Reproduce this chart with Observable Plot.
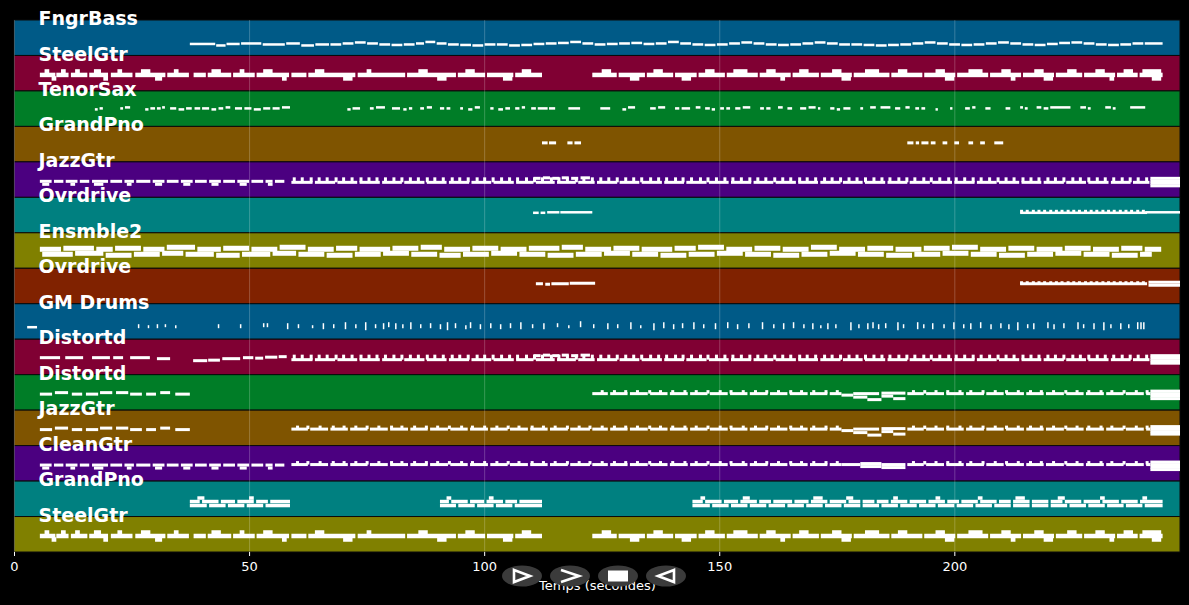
<!DOCTYPE html>
<html><head><meta charset="utf-8">
<script src="https://cdn.jsdelivr.net/npm/d3@7"></script>
<script src="https://cdn.jsdelivr.net/npm/@observablehq/plot@0.6"></script>
<style>
html,body{margin:0;padding:0;background:#000;}
#wrap{position:relative;width:1189px;height:605px;overflow:hidden;background:#000;}
#btns{position:absolute;left:0;top:0;}
</style></head><body><div id="wrap"></div>
<script>
// ---- track names & colours ----
const trackNames = ["FngrBass","SteelGtr","TenorSax","GrandPno","JazzGtr","Ovrdrive","Ensmble2","Ovrdrive","GM Drums","Distortd","Distortd","JazzGtr","CleanGtr","GrandPno","SteelGtr"];
const palette = ["#005a87","#800033","#007d27","#7f5400","#4b0080","#008080","#808000","#802200"];
const timeTicks = [0,50,100,150,200];
const timeDomain = [0,248];

// ---- notes: [start s, end s, pitch (px above band bottom)] ----
const fngrBass = [[37.4,42.8,11.5],[43,45,10],[45.2,48,11.5],[48.3,52.6,12],[52.9,57.6,11],[57.9,60.8,12],[61.1,63.8,10],[64.1,67,11],[67.3,69.6,11],[69.9,72.2,12],[72.5,74.8,13],[75.1,77.4,12],[77.7,80,11],[80.3,82.6,10.5],[82.9,85.2,11],[85.5,87.2,12],[87.5,89.6,13.5],[89.9,92,12],[92.3,94.6,11],[94.9,97.2,10.5],[97.5,99.8,10],[100.1,102.4,11],[102.7,105,11],[105.3,107.6,10],[107.9,110.2,10.5],[110.5,112.8,11.5],[113.1,115.4,12],[115.7,118,12.5],[118.3,120.6,13.5],[120.9,123.2,12],[123.5,125.8,11],[126.1,128.4,11.5],[128.7,131,12],[131.3,133.6,12.5],[133.9,136.2,11.5],[136.5,138.8,12],[139.1,141.4,13.5],[141.7,144,12],[144.3,146.6,11],[146.9,149.2,10.5],[149.5,151.8,11],[152.1,154.4,12],[154.7,157,13],[157.3,159.6,12],[159.9,162.2,11],[162.5,164.8,10.5],[165.1,167.4,11],[167.7,170,12],[170.3,172.6,13],[172.9,175.2,12],[175.5,177.8,11],[178.1,180.4,11],[180.7,183,10.5],[183.3,185.6,10],[185.9,188.2,10.5],[188.5,190.8,11],[191.1,193.4,12],[193.7,196,13],[196.3,198.6,12],[198.9,201.2,11],[201.5,203.8,10.5],[204.1,206.4,11],[206.7,209,12],[209.3,211.6,13],[211.9,214.2,12],[214.5,216.8,11],[217.1,219.4,10.5],[219.7,222,11.5],[222.3,224.6,12.5],[224.9,227.2,13],[227.5,229.8,12],[230.1,232.4,11],[232.7,235,10.5],[235.3,237.6,11],[237.9,240.2,12],[240.5,244.3,12]];

const steelMain = [[5.5,8.8,16],[9,11.6,16],[12.1,15.6,16],[16,20,16],[20.6,25.2,16],[25.8,32.2,16],[32.6,37.2,16],[38.2,40.8,16],[41.2,46.2,16],[46.6,51.2,16],[51.6,58.5,16],[59,62.2,16],[62.6,72.6,16],[73.1,83.2,16],[83.6,94,16],[94.4,100.2,16],[100.6,106.2,16],[106.6,112.3,16],[123,128.2,16],[128.6,134.2,16],[134.6,140.2,16],[140.6,145.2,16],[145.6,151.2,16],[151.6,158.2,16],[158.6,165.2,16],[165.6,171.2,16],[171.6,178.2,16],[178.6,186.2,16],[186.6,193.2,16],[193.6,200.2,16],[200.6,207.2,16],[207.6,214.2,16],[214.6,221.2,16],[221.6,227.2,16],[227.6,234.2,16],[234.6,239,16],[239.4,244.3,16]];
const steelHigh = [[6.5,7.5,19.5],[10,11,19.5],[13,14,19.5],[17,18.5,19.5],[22,23,19.5],[27,29,19.5],[34,35,19.5],[42,44,19.5],[48,49,19.5],[53,55,19.5],[64,66,19.5],[75,76,19.5],[86,88,19.5],[96,98,19.5],[108,110,19.5],[125,127,19.5],[136,138,19.5],[147,149,19.5],[153,156,19.5],[160,162,19.5],[167,169,19.5],[174,176,19.5],[181,184,19.5],[188,190,19.5],[196,198,19.5],[203,206,19.5],[210,212,19.5],[217,219,19.5],[224,226,19.5],[230,232,19.5],[236,238,19.5],[240,244,19.5]];
const steelLow = [[8,9,12.5],[19,20,12.5],[30,31.5,12.5],[57,58,12.5],[70,72,12.5],[90,92,12.5],[104,106,12.5],[131,133,12.5],[142,144,12.5],[163,164,12.5],[176,178,12.5],[198,200,12.5],[212,213,12.5],[219,221,12.5],[233,234,12.5],[242,244,12.5]];

const tenorSax = [[17.2,17.8,17],[18.2,18.9,18],[22.6,23.2,18],[23.6,24.7,19],[27.9,28.6,17],[29,30,18],[30.4,31.2,18],[31.5,32.1,19],[33.2,34.5,18],[35,36.2,17],[36.6,37.8,18],[38.4,39.6,18],[40,41.5,18],[42,43,17],[43.5,44.5,18],[45,46,19],[47,48.5,18],[49,50.5,18],[51,52.5,17],[53,54.5,18],[55,56.5,18],[57,58.7,19],[70.9,71.6,17],[72,73.6,18],[75.7,76.5,18],[77,78.9,19],[80.4,82.1,18],[82.8,83.5,17],[84,84.7,18],[86.4,87.2,18],[87.8,88.9,19],[90.6,91.5,18],[92,92.8,18],[94.9,95.5,18],[96.6,97.5,17],[98,99.1,19],[101.3,102,18],[103,104,17],[104.5,105.5,18],[106.6,107.5,18],[108,108.7,19],[110,111,18],[111.4,113.5,18],[113.8,115.1,18],[117.9,120.4,18],[124.7,126.8,18],[129.4,130.2,17],[130.6,132.1,19],[135.3,136.5,18],[137,138.5,19],[140.6,141.5,18],[142,143.8,18],[145,146,19],[147,148,18],[148.4,149.1,17],[150.2,151,18],[151.5,152.3,18],[153.4,154.5,18],[155,156.6,19],[158.7,159.5,18],[160,160.9,18],[162.5,163.5,19],[164.5,165.5,18],[167.2,168.5,18],[169,170.5,19],[171,171.5,18],[173.6,174.5,18],[175,175.7,17],[176.4,177.9,18],[180,180.6,18],[182.1,183.3,19],[184.3,186.4,19],[187.4,188.5,18],[189.6,190.5,19],[191.7,192.5,18],[193,193.8,18],[196,196.5,17],[199.1,199.6,18],[202.3,203.3,18],[203.8,204.5,19],[206.6,207.7,18],[210.9,211.9,18],[214,214.6,19],[215,215.6,18],[217.5,218.5,19],[219,220,18],[220.4,224.7,19],[226.8,228,19],[228.4,229,18],[232.1,233.3,19],[233.7,234.3,18],[237.4,240.6,19]];

const grandPnoA = [[112.3,113.5,19],[113.8,115.3,19],[117.7,118.8,19],[119.2,120.6,19],[190,191.3,19],[191.8,192.5,19],[193,194.5,19],[195,196,19],[197.5,198.5,19],[200,201,19],[203,204,19],[205.5,206.5,19],[208.5,210.4,19]];

const jazzEarly = [[5.5,8,16],[8.5,10.5,16],[11,13.5,16],[14,16,16],[16.6,20,16],[20.5,23,16],[23.5,25.5,16],[26,29,16],[29.5,32,16],[32.5,35,16],[35.5,38,16],[38.5,41,16],[41.5,44,16],[44.5,47,16],[47.5,50,16],[50.5,53,16],[53.5,55,16],[55.5,57.5,16]];
const jazzEarlyLow = [[6,7.5,13],[12,13,13],[17,19,13],[24,25,13],[30,31.5,13],[36,37.5,13],[42,43.5,13],[48,49.5,13],[54,55,13]];

const riffBase = [[59,63.5,15],[64,68.3,15],[68.8,73,15],[73.5,77.8,15],[78.3,82.5,15],[83,87.3,15],[87.8,92,15],[92.5,96.8,15],[97.3,101.5,15],[102,106.3,15],[106.8,110.5,15],[111,115,15],[115.5,119.5,15],[120,123.5,15],[124,128.3,15],[128.8,133,15],[133.5,137.8,15],[138.3,142.5,15],[143,147.3,15],[147.8,152,15],[152.5,156.8,15],[157.3,161.5,15],[162,166.3,15],[166.8,171,15],[171.5,175.8,15],[176.3,180.5,15],[181,185.3,15],[185.8,190,15],[190.5,194.8,15],[195.3,199.5,15],[200,204.3,15],[204.8,209,15],[209.5,213.8,15],[214.3,218.5,15],[219,223.3,15],[223.8,228,15],[228.5,232.8,15],[233.3,237.5,15],[238,241.5,15]];
const riffUpper = [[110.5,112,19],[112.5,114,19.5],[114.5,116,19],[116.5,118,19.5],[118.5,120,19],[120.5,122.5,19.5]];
const riffAccents = [59.5,61.2,63.1,64.8,66.5,68.4,70,71.8,73.7,75.4,77.1,78.9,80.7,82.4,84.2,85.9,87.8,89.4,91.2,93.1,94.7,96.5,98.4,100,101.8,103.6,105.3,107,108.9,110.6,112.3,114.2,115.8,117.6,119.5,121.1,122.9,124.7,126.4,128.2,130,131.7,133.4,135.3,137,138.7,140.6,142.2,144,145.9,147.5,149.3,151.1,152.8,154.6,156.4,158.1,159.8,161.7,163.4,165.1,167,168.6,170.4,172.3,173.9,175.7,177.5,179.2,181,182.8,184.5,186.2,188.1,189.8,191.5,193.4,195,196.8,198.7,200.3,202.1,203.9,205.6,207.4,209.2,210.9,212.6,214.5,216.2,217.9,219.8,221.4,223.2,225.1,226.7,228.5,230.3,232,233.8,235.6,237.3,239,240.8];
const endBlock = [[241.7,248,11.5],[241.7,248,14],[241.7,248,16.5],[241.7,248,19]];

const ovrA = [[110.4,111.6,20],[112,113,20],[113.4,116,20.5],[116.2,123,20.5]];
const ovrB = [[111,112.5,20],[113,114,19.5],[114.3,118,20],[118.2,123.6,20.5]];
const ovrDotBase = [[214,241,20]];
const ovrDots = [214.2,215.4,216.7,217.9,219.1,220.4,221.6,222.8,224.1,225.3,226.5,227.8,229,230.2,231.5,232.7,233.9,235.2,236.4,237.6,238.9,240.1];
const ovrEndLine = [[240.6,248,20.5]];
const ovrEndBlock = [[241.3,248,18.5],[241.3,248,21.5]];

const ensUpper = [[5.5,10,19],[10.5,17,20],[17.5,21,19],[21.5,27,20],[27.5,32,19],[32.5,38.5,21],[39,44,19],[44.5,50,20],[50.5,56,19],[56.5,62,21],[62.5,68,19],[68.5,73,20],[73.5,80,19],[80.5,86,20],[86.5,91,21],[91.5,97,19],[97.5,103,20],[103.5,109,19],[109.5,116,20],[116.5,121,21],[121.5,127,19],[127.5,133,20],[133.5,140,19],[140.5,145,20],[145.5,151,21],[151.5,157,19],[157.5,163,20],[163.5,169,19],[169.5,175,21],[175.5,181,19],[181.5,187,20],[187.5,193,19],[193.5,199,20],[199.5,205,21],[205.5,211,19],[211.5,217,20],[217.5,223,19],[223.5,229,20],[229.5,235,19],[235.5,240,20],[240.5,244,19]];
const ensLower = [[6,12.5,14],[13,19,15],[19.5,25,13],[25.5,31,14],[31.5,36,15],[36.5,42.5,14],[43,48,13],[48.5,54.5,14],[55,60,15],[60.5,66,14],[66.5,72,13],[72.5,78,14],[78.5,84,15],[84.5,90,14],[90.5,95,13],[95.5,101,14],[101.5,107,15],[107.5,113,14],[113.5,119,13],[119.5,125,14],[125.5,131,15],[131.5,137,14],[137.5,143,13],[143.5,149,14],[149.5,155,15],[155.5,161,14],[161.5,167,13],[167.5,173,14],[173.5,179,15],[179.5,185,14],[185.5,191,13],[191.5,197,14],[197.5,203,15],[203.5,209,14],[209.5,215,13],[215.5,221,14],[221.5,227,15],[227.5,233,14],[233.5,239,13],[239.5,242,14]];

const drumNotes = [[2.8,4.9,12]];
// drum hits: [time, low pitch, high pitch]
const drumHits = [[26.4,11,15],[28.5,11,14],[30.4,11,15],[32.1,12,15],[34.3,11,14],[43.4,11,15],[48.1,11,15],[53,12,16],[53.8,12,16],[58.1,10,16],[60.4,11,15],[63.4,11,14],[65.7,10,16],[67.9,11,15],[70.4,10,17],[72.6,11,15],[74.7,9,17],[76.8,11,15],[78.5,10,16],[79.6,12,17],[81.1,10,16],[82.6,11,15],[84.3,10,17],[86.4,11,15],[88.5,11,16],[90.6,10,15],[92.1,9,17],[93.8,11,16],[96,10,14],[97,11,17],[99.1,10,15],[101.3,11,16],[103.4,10,15],[105.5,11,16],[107.7,10,17],[110.2,11,15],[112.6,10,16],[115.5,12,16],[117.9,11,14],[120.4,12,18],[123.2,11,15],[126.2,10,16],[128.3,11,15],[131.1,10,17],[133.2,11,14],[136,9,16],[138.1,11,17],[140.2,10,15],[142.1,11,16],[144.5,10,17],[146.6,11,15],[149.1,10,16],[151.7,11,17],[153.8,10,15],[156.2,11,16],[159.1,10,17],[161.5,11,15],[163.6,10,16],[165.7,11,17],[167.9,11,15],[169.8,10,16],[171.5,11,14],[173,10,16],[174.7,11,15],[177.9,9,17],[179.6,11,15],[181.5,10,16],[182.6,11,17],[183.8,10,15],[185.3,11,16],[187.9,9,17],[189.1,11,15],[192.1,10,17],[193.4,11,15],[195.3,10,16],[197.7,11,15],[199.8,10,17],[201.9,11,15],[203.4,10,16],[205.5,11,17],[207.7,10,15],[209.8,11,16],[211.5,10,15],[213.4,9,17],[215.5,11,15],[216.8,10,16],[219.8,11,17],[221.1,10,15],[223.2,11,16],[226.2,10,17],[227.4,11,15],[229.6,10,16],[231.7,9,17],[233.2,11,15],[235.3,10,16],[237,11,15],[238.9,10,17],[239.6,10,17],[240.2,10,17]];

const distEarly = [[5.5,9.8,17],[10.9,14.7,17],[16.6,20.4,17],[21.1,23.2,17],[24.7,28.9,17],[30.4,33.2,16],[38.1,41.1,14],[41.3,43.8,14.5],[44.3,48.1,16],[48.7,50.9,17],[51.3,53,16.5],[53.4,56,17.5],[56.3,58,18]];
const dashEarly = [[5.5,8.1,16],[8.7,11.5,17.5],[12.3,14.5,16],[15.3,17.9,16],[18.3,20.9,17.5],[21.7,24.3,17.5],[24.7,27.2,16],[28.1,30.2,16],[31.1,33.2,17.5],[34.3,37.4,16]];

const leadBaseA = [[59,62.5,16.5],[63,66.8,16.5],[67.3,71,16.5],[71.5,75.2,16.5],[75.7,79.5,16.5],[80,83.8,16.5],[84.3,88,16.5],[88.5,92.3,16.5],[92.8,96.5,16.5],[97,100.8,16.5],[101.3,105,16.5],[105.5,109.3,16.5],[109.8,113.5,16.5],[114,117.8,16.5],[118.3,122.5,16.5]];
const leadBaseB = [[123,126.3,16.5],[126.8,130.5,16.5],[131,134.8,16.5],[135.3,139,16.5],[139.5,143.3,16.5],[143.8,147.5,16.5],[148,151.8,16.5],[152.3,156,16.5],[156.5,160.3,16.5],[160.8,164.5,16.5],[165,168.8,16.5],[169.3,173,16.5],[173.5,176,16.5],[190,193.5,16.5],[194,197.8,16.5],[198.3,202,16.5],[202.5,206.3,16.5],[206.8,210.5,16.5],[211,214.8,16.5],[215.3,219,16.5],[219.5,223.3,16.5],[223.8,227.5,16.5],[228,231.8,16.5],[232.3,236,16.5],[236.5,240.3,16.5],[240.8,241.7,16.5]];
const leadAccentsA = [60.2,62.4,65,67.8,70.1,72.6,75,77.5,80.2,82.4,85.1,87.6,90,92.5,95.1,97.4,100,102.6,105,107.3,110.1,112.5,115,117.6,120.1,122.4];
const leadAccentsB = [125,127.6,130,132.5,135.1,137.4,140,142.6,145,147.5,150.1,152.4,155,157.6,160,162.5,165.1,167.4,170,172.6,175,191.2,193.6,196,198.5,201.1,203.4,206,208.6,211,213.5,216.1,218.4,221,223.6,226,228.5,231.1,233.4,236,238.6,240.9];
const leadDip = [[176,178.5,15],[178.5,181.5,13],[178.5,184,16.5],[181.5,184.5,10.5],[184.5,187,14],[184.5,189.6,17],[187,189.6,11.5]];
const cleanDip = [[176,180,16.5],[180,184.5,17.5],[180,184.5,14.5],[184.5,189.6,16.5],[184.5,189.6,13.5]];

const pnoUpper = [[37.4,39.5,15],[40,43.5,15],[44,47,15],[47.5,51,15],[51.5,54,15],[54.5,58.7,15],[90.6,92.5,15],[93,96.5,15],[97,100,15],[100.5,104,15],[104.5,107,15],[107.5,112.3,15],[144.3,146.5,15],[147,150.5,15],[151,154,15],[154.5,158,15],[158.5,161,15],[161.5,165.5,15],[166,169,15],[169.5,173,15],[173.5,177,15],[177.5,180,15],[180.5,183,15],[183.5,186,15],[186.5,190,15],[190.5,194,15],[194.5,198,15],[198.5,201,15],[201.5,205,15],[205.5,209,15],[209.5,212,15],[212.5,216,15],[216.5,220,15],[220.5,223,15],[223.5,227,15],[227.5,231,15],[231.5,235,15],[235.5,239,15],[239.5,244.3,15]];
const pnoLower = [[37.4,41,11],[41.5,45,11],[45.5,49,11],[49.5,53,11],[53.5,58.7,11],[90.6,94,11],[94.5,98,11],[98.5,102,11],[102.5,106,11],[106.5,112.3,11],[144.3,148,11],[148.5,152,11],[152.5,156,11],[156.5,160,11],[160.5,164,11],[164.5,168,11],[168.5,172,11],[172.5,176,11],[176.5,180,11],[180.5,184,11],[184.5,188,11],[188.5,192,11],[192.5,196,11],[196.5,200,11],[200.5,204,11],[204.5,208,11],[208.5,212,11],[212.5,216,11],[216.5,220,11],[220.5,224,11],[224.5,228,11],[228.5,232,11],[232.5,236,11],[236.5,240,11],[240.5,244.3,11]];
const pnoTop = [[39,40.5,18.5],[50,51,18.5],[92,93,18.5],[101,102,18.5],[146,147,18.5],[155,156.5,18.5],[170,172,18.5],[177,178.5,18.5],[187,188,18.5],[196,197,18.5],[205,206,18.5],[213,215,18.5],[222,223.5,18.5],[231,232,18.5],[240,241,18.5]];

// ---- track assembly (styles kept here, not in data) ----
const BAND_PX = (605 - 20 - 53) / 15;
const tracks = [
  {notes:[fngrBass], h:2.5},
  {notes:[steelMain, steelHigh, steelLow], h:4.5},
  {notes:[tenorSax], h:2.5},
  {notes:[grandPnoA], h:3},
  {notes:[jazzEarly, jazzEarlyLow, riffBase, riffUpper, endBlock], h:3, accents:[{t:riffAccents, p0:15, p1:20}]},
  {notes:[ovrA, ovrDotBase, ovrEndLine], h:2.5, accents:[{t:ovrDots, p0:20, p1:23}]},
  {notes:[ensUpper, ensLower], h:5},
  {notes:[ovrB, ovrDotBase, ovrEndBlock], h:3, accents:[{t:ovrDots, p0:19, p1:22.5}]},
  {notes:[drumNotes], h:2.5, hits:drumHits},
  {notes:[distEarly, riffBase, riffUpper, endBlock], h:3, accents:[{t:riffAccents, p0:15, p1:20}]},
  {notes:[dashEarly, leadBaseB, leadDip, endBlock], h:3, accents:[{t:leadAccentsB, p0:16.5, p1:20}]},
  {notes:[dashEarly, leadBaseA, leadBaseB, leadDip, endBlock], h:3, accents:[{t:leadAccentsA, p0:16.5, p1:20},{t:leadAccentsB, p0:16.5, p1:20}]},
  {notes:[jazzEarly, jazzEarlyLow, leadBaseA, leadBaseB, cleanDip, endBlock], h:3, accents:[{t:leadAccentsA, p0:16.5, p1:20},{t:leadAccentsB, p0:16.5, p1:20}]},
  {notes:[pnoUpper, pnoLower, pnoTop], h:3.5},
  {notes:[steelMain, steelHigh, steelLow], h:4.5}
];

const bands = trackNames.map((name, i) => ({i, name, color: palette[i % palette.length]}));
const notes = tracks.flatMap((tr, i) => tr.notes.flatMap(arr => arr.map(([t1, t2, p]) => ({i, t1, t2, p, h: tr.h}))));
const accents = tracks.flatMap((tr, i) => (tr.accents || []).flatMap(a => a.t.map(t => ({i, t, p0: a.p0, p1: a.p1}))));
const hits = tracks.flatMap((tr, i) => (tr.hits || []).map(([t, lo, hi]) => ({i, t, p0: lo, p1: hi})));
const yOf = (i, p) => i + 1 - p / BAND_PX;

const chart = Plot.plot({
  width: 1189, height: 605,
  marginTop: 20, marginBottom: 53, marginLeft: 14, marginRight: 9,
  style: {background: "#000", color: "#fff", fontFamily: "DejaVu Sans, sans-serif", fontSize: "13px"},
  x: {domain: timeDomain, ticks: timeTicks, label: null},
  y: {domain: [0, trackNames.length], reverse: true, axis: null},
  color: {type: "identity"},
  marks: [
    Plot.rect(bands, {x1: () => timeDomain[0], x2: () => timeDomain[1], y1: d => d.i, y2: d => d.i + 1, fill: d => d.color, stroke: "#0a0a0a", strokeWidth: 1}),
    Plot.ruleX(timeTicks, {stroke: "#ffffff", strokeOpacity: 0.22, strokeWidth: 1}),
    Plot.rect(notes, {x1: "t1", x2: "t2", y1: d => yOf(d.i, d.p + d.h / 2), y2: d => yOf(d.i, d.p - d.h / 2), fill: "#ffffff"}),
    Plot.ruleX(accents, {x: "t", y1: d => yOf(d.i, d.p0), y2: d => yOf(d.i, d.p1), stroke: "#ffffff", strokeWidth: 3}),
    Plot.ruleX(hits, {x: "t", y1: d => yOf(d.i, d.p0), y2: d => yOf(d.i, d.p1), stroke: "#ffffff", strokeWidth: 1.5}),
    Plot.axisX({ticks: timeTicks, tickSize: 4, tickPadding: 5, fontSize: 13, color: "#fff", label: null}),
    Plot.text(["Temps (secondes)"], {frameAnchor: "bottom", dy: 37, fontSize: 13, fill: "#fff"}),
    Plot.text(bands, {frameAnchor: "left", y: d => d.i, text: "name", dx: 24, dy: -1.5, textAnchor: "start", fontSize: 19, fontWeight: "bold", fill: "#fff"})
  ]
});
const wrap = document.getElementById("wrap");
wrap.appendChild(chart);

// toolbar buttons drawn over the axis title
const btn = d3.create("svg").attr("id", "btns").attr("width", 1189).attr("height", 605);
const centers = [522, 570, 618, 666];
const icons = ["play", "next", "stop", "back"];
centers.forEach((cx, k) => {
  const g = btn.append("g").attr("transform", `translate(${cx},576)`);
  g.append("ellipse").attr("rx", 20).attr("ry", 10.5).attr("fill", "#3b3b3b");
  const ic = icons[k];
  if (ic === "play") g.append("path").attr("d", "M-8,-6 L8,0 L-8,6 Z").attr("fill", "none").attr("stroke", "#fff").attr("stroke-width", 2.6);
  if (ic === "next") g.append("path").attr("d", "M-9,-6 L9,0 L-9,6").attr("fill", "none").attr("stroke", "#fff").attr("stroke-width", 2.6);
  if (ic === "stop") g.append("rect").attr("x", -10).attr("y", -5.5).attr("width", 20).attr("height", 11).attr("fill", "#fff");
  if (ic === "back") g.append("path").attr("d", "M8,-6 L-8,0 L8,6 Z").attr("fill", "none").attr("stroke", "#fff").attr("stroke-width", 2.6);
});
wrap.appendChild(btn.node());
</script>
</body></html>
